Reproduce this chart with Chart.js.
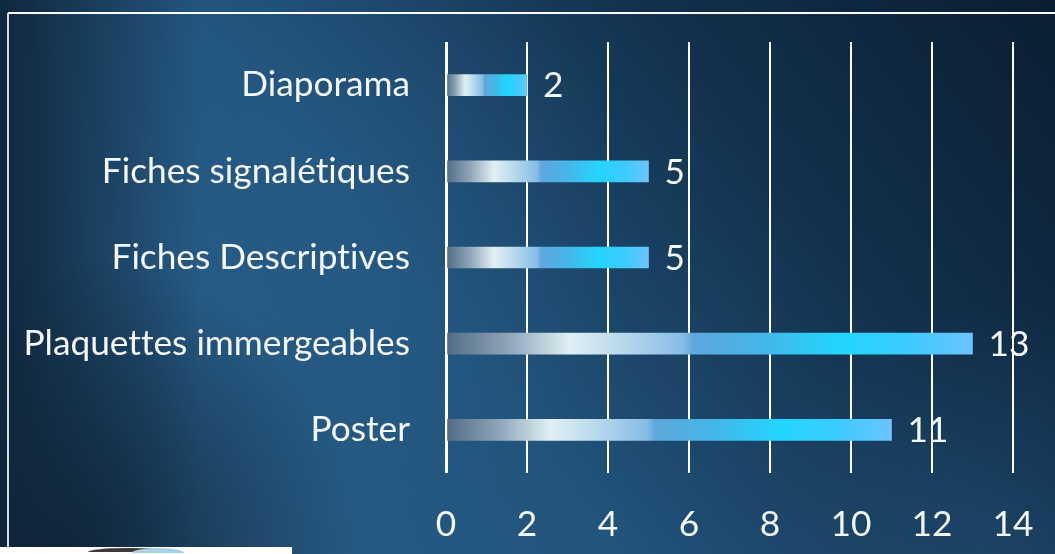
<!DOCTYPE html>
<html>
<head>
<meta charset="utf-8">
<script src="https://cdn.jsdelivr.net/npm/chart.js@4/dist/chart.umd.min.js"></script>
<style>
html,body{margin:0;padding:0;background:#12304c;}
#wrap{width:1055px;height:554px;position:relative;}
</style>
</head>
<body>
<div id="wrap"><canvas id="c" width="1055" height="554"></canvas></div>
<script>
const categories = ["Diaporama", "Fiches signalétiques", "Fiches Descriptives", "Plaquettes immergeables", "Poster"];
const values = [2, 5, 5, 13, 11];
const xTicks = [0, 2, 4, 6, 8, 10, 12, 14];

const FONT_FAMILY = "Lato";
const mctx = document.createElement('canvas').getContext('2d');
try { mctx.textRendering = "optimizeSpeed"; } catch (e) {}
let fs = 30;
for (let s = 24; s <= 40; s += 0.25) {
  mctx.font = s + "px " + FONT_FAMILY;
  if (mctx.measureText("Plaquettes immergeables").width <= 389) fs = s;
}

const barStops = [
  [0, "#526b85"], [0.12, "#8fa6b9"], [0.235, "#e0f0f4"], [0.35, "#b3d6eb"],
  [0.45, "#86bce6"], [0.47, "#5ea8dc"], [0.6, "#44b6e8"], [0.75, "#22d6fd"],
  [0.88, "#3ccbff"], [1, "#6cc3ff"]
];

function barColor(ctx) {
  const chart = ctx.chart;
  const xs = chart.scales.x;
  if (!xs || ctx.type !== 'data') return "#44b6e8";
  const x0 = xs.getPixelForValue(0);
  const x1 = xs.getPixelForValue(ctx.raw);
  if (!isFinite(x0) || !isFinite(x1) || x1 - x0 < 1) return "#44b6e8";
  const g = chart.ctx.createLinearGradient(x0, 0, x1, 0);
  barStops.forEach(s => g.addColorStop(s[0], s[1]));
  return g;
}

const bgPlugin = {
  id: 'bg',
  beforeDraw(chart) {
    const c = chart.ctx, W = chart.width, H = chart.height;
    try { c.textRendering = "optimizeSpeed"; } catch (e) {}
    c.save();
    let g = c.createLinearGradient(1055, 0, 330, 554);
    g.addColorStop(0, "#0b1e31");
    g.addColorStop(0.35, "#12304c");
    g.addColorStop(0.75, "#22547c");
    g.addColorStop(1, "#265a83");
    c.fillStyle = g; c.fillRect(0, 0, W, H);
    let r = c.createRadialGradient(300, 230, 10, 300, 230, 330);
    r.addColorStop(0, "rgba(40,95,140,0.45)");
    r.addColorStop(1, "rgba(40,95,140,0)");
    c.fillStyle = r; c.fillRect(0, 0, W, H);
    let l = c.createLinearGradient(0, 0, 200, 0);
    l.addColorStop(0, "rgba(14,34,54,0.9)");
    l.addColorStop(1, "rgba(14,34,54,0)");
    c.fillStyle = l; c.fillRect(0, 0, W, H);
    let lb = c.createRadialGradient(60, 554, 10, 60, 554, 300);
    lb.addColorStop(0, "rgba(15,36,56,0.9)");
    lb.addColorStop(1, "rgba(15,36,56,0)");
    c.fillStyle = lb; c.fillRect(0, 0, W, H);
    let br = c.createRadialGradient(1000, 560, 10, 1000, 560, 260);
    br.addColorStop(0, "rgba(35,80,120,0.5)");
    br.addColorStop(1, "rgba(35,80,120,0)");
    c.fillStyle = br; c.fillRect(0, 0, W, H);
    c.restore();
  },
  afterDraw(chart) {
    const c = chart.ctx;
    c.save();
    c.strokeStyle = "#ffffff"; c.lineWidth = 2;
    c.beginPath(); c.moveTo(8, 13); c.lineTo(1055, 13); c.stroke();
    c.strokeStyle = "#d5dbe2";
    c.beginPath(); c.moveTo(8, 13); c.lineTo(8, 547); c.stroke();
    c.fillStyle = "#ffffff"; c.fillRect(0, 547, 292, 7);
    c.fillStyle = "#3b3a38";
    c.beginPath(); c.ellipse(128, 552, 40, 4, 0, Math.PI, 2 * Math.PI); c.fill();
    c.fillStyle = "#a8d0e6";
    c.beginPath(); c.ellipse(158, 553, 26, 5, 0, Math.PI, 2 * Math.PI); c.fill();
    c.restore();
  }
};

const labelPlugin = {
  id: 'vals',
  afterDatasetsDraw(chart) {
    const c = chart.ctx;
    const meta = chart.getDatasetMeta(0);
    c.save();
    c.fillStyle = "#f4f7fa";
    c.font = fs + "px " + FONT_FAMILY;
    c.textAlign = "left"; c.textBaseline = "middle";
    meta.data.forEach((el, i) => {
      c.fillText(String(values[i]), el.x + 16, el.y + 1);
    });
    c.restore();
  }
};

new Chart(document.getElementById('c'), {
  type: 'bar',
  data: {
    labels: categories,
    datasets: [{
      data: values,
      backgroundColor: barColor,
      borderWidth: 0,
      barThickness: 21
    }]
  },
  options: {
    indexAxis: 'y',
    responsive: false,
    animation: false,
    devicePixelRatio: 1,
    layout: { padding: { top: 42, right: 42, left: 0, bottom: 0 } },
    plugins: { legend: { display: false }, tooltip: { enabled: false } },
    scales: {
      x: {
        min: 0, max: 14,
        afterBuildTicks(scale) { scale.ticks = xTicks.map(v => ({ value: v })); },
        afterFit(scale) {
          scale.height = 81;
          scale.paddingLeft = 0; scale.paddingRight = 0;
        },
        grid: {
          color: "#ffffff",
          lineWidth: (ctx) => (ctx.tick && ctx.tick.value === 0) ? 3 : 2,
          drawTicks: false
        },
        border: { display: false },
        ticks: {
          color: "#f4f7fa",
          font: { family: FONT_FAMILY, size: fs },
          padding: 30,
          maxRotation: 0
        }
      },
      y: {
        afterFit(scale) {
          scale.width = 446;
          scale.paddingTop = 0; scale.paddingBottom = 0;
        },
        grid: { display: false, drawTicks: false },
        border: { display: false },
        ticks: {
          color: "#f4f7fa",
          font: { family: FONT_FAMILY, size: fs },
          padding: 36
        }
      }
    }
  },
  plugins: [bgPlugin, labelPlugin]
});
</script>
</body>
</html>
